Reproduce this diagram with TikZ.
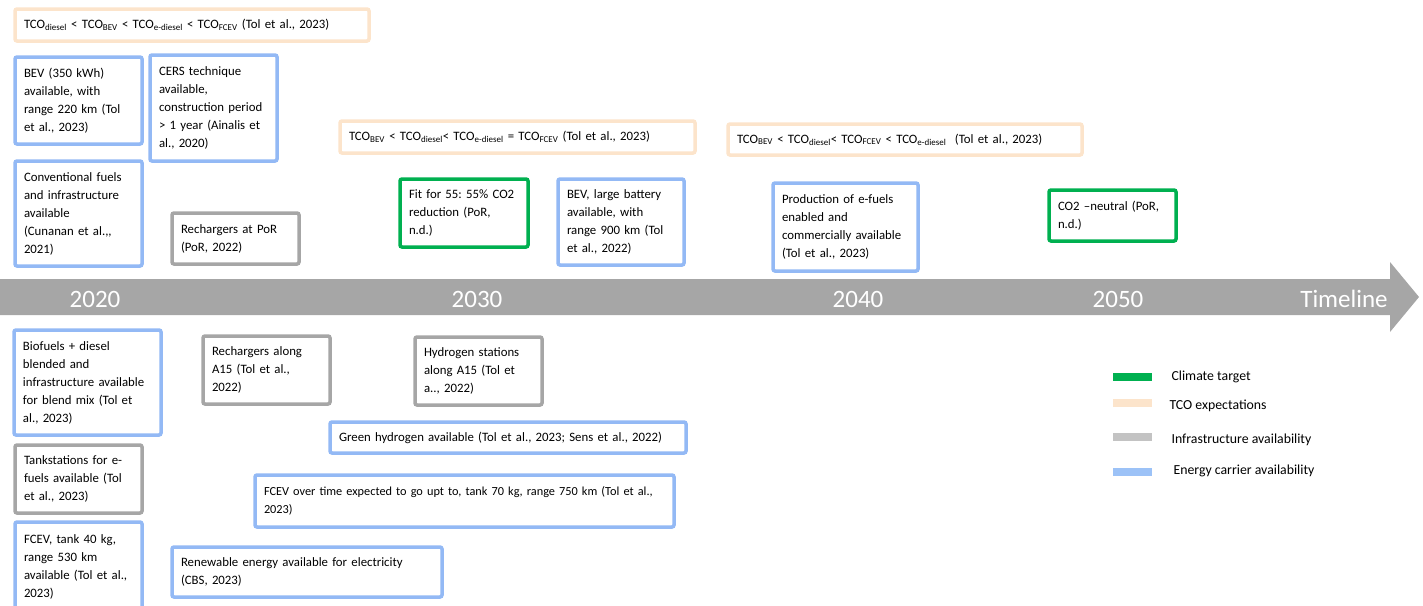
\documentclass[tikz,border=0pt]{standalone}
\usepackage{fontspec}
\setmainfont{Carlito}
\usepackage{tikz}

\definecolor{climgreen}{HTML}{00B050}
\definecolor{tcoorange}{HTML}{FCE4CB}
\definecolor{infragray}{HTML}{A6A6A6}
\definecolor{energyblue}{HTML}{93B9F5}
\definecolor{leggray}{HTML}{C3C3C3}
\definecolor{legblue}{HTML}{9CC2F7}

\begin{document}
\frenchspacing
\begin{tikzpicture}[x=1pt,y=-1pt]
\tikzset{
box/.style={rectangle,rounded corners=2pt,line width=3.5pt,fill=white,align=left,inner xsep=9pt,inner ysep=2pt,font=\fontsize{12.8}{18}\selectfont},
energy/.style={box,draw=energyblue},
infra/.style={box,draw=infragray},
climate/.style={box,draw=climgreen},
tco/.style={box,draw=tcoorange},
year/.style={text=white,font=\fontsize{25}{25}\selectfont},
legbar/.style={rectangle,minimum width=39pt,minimum height=8pt,inner sep=0pt},
legtext/.style={anchor=west,font=\fontsize{13.8}{16}\selectfont},
}
\useasboundingbox (0,0) rectangle (1423,605);
\clip (0,0) rectangle (1423,605);

% timeline arrow
\fill[infragray] (0,279) -- (1390,279) -- (1390,262) -- (1419,297) -- (1390,332) -- (1390,315) -- (0,315) -- cycle;
\node[year] (y2020) at (95,299) {2020};
\node[year] (y2030) at (477,299) {2030};
\node[year] (y2040) at (858,299) {2040};
\node[year] (y2050) at (1118,299) {2050};
\node[year] (tline) at (1344,299) {Timeline};

% TCO expectations
\node[tco, minimum width=354pt, minimum height=32pt, text width=336pt] (tco1) at (192,25) {TCO\textsubscript{diesel} < TCO\textsubscript{BEV} < TCO\textsubscript{e-diesel} < TCO\textsubscript{FCEV} (Tol et al., 2023)};
\node[tco, minimum width=355pt, minimum height=32pt, text width=337pt] (tco2) at (517.5,137) {TCO\textsubscript{BEV} < TCO\textsubscript{diesel}< TCO\textsubscript{e-diesel} = TCO\textsubscript{FCEV} (Tol et al., 2023)};
\node[tco, minimum width=354pt, minimum height=31pt, text width=336pt] (tco3) at (905,139.5) {TCO\textsubscript{BEV} < TCO\textsubscript{diesel}< TCO\textsubscript{FCEV} < TCO\textsubscript{e-diesel}\ \ (Tol et al., 2023)};

% above the timeline
\node[energy, minimum width=127pt, minimum height=87pt, text width=109pt] (bev350) at (78.5,100.5) {BEV (350 kWh)\\ available, with\\ range 220 km (Tol\\ et al., 2023)};
\node[energy, minimum width=127pt, minimum height=106pt, text width=109pt] (cers) at (213.5,108) {CERS technique\\ available,\\ construction period\\ > 1 year (Ainalis et\\ al., 2020)};
\node[energy, minimum width=127pt, minimum height=105pt, text width=109pt] (conv) at (78.5,213.5) {Conventional fuels\\ and infrastructure\\ available\\ (Cunanan et al.,{},\\ 2021)};
\node[infra, minimum width=127pt, minimum height=51pt, text width=109pt] (rechpor) at (235.5,238.5) {Rechargers at PoR\\ (PoR, 2022)};
\node[climate, minimum width=128pt, minimum height=68pt, text width=110pt] (fit55) at (464,213) {Fit for 55: 55\% CO2\\ reduction (PoR,\\ n.d.)};
\node[energy, minimum width=126pt, minimum height=86pt, text width=108pt] (bevlarge) at (621,222) {BEV, large battery\\ available, with\\ range 900 km (Tol\\ et al., 2022)};
\node[energy, minimum width=145pt, minimum height=88pt, text width=127pt] (efuels) at (845.5,227) {Production of e-fuels\\ enabled and\\ commercially available\\ (Tol et al., 2023)};
\node[climate, minimum width=127pt, minimum height=51pt, text width=109pt] (neutral) at (1112.5,215.5) {CO2 --neutral (PoR,\\ n.d.)};

% below the timeline
\node[energy, minimum width=147pt, minimum height=105pt, text width=129pt] (biofuels) at (87.5,382.5) {Biofuels + diesel\\ blended and\\ infrastructure available\\ for blend mix (Tol et\\ al., 2023)};
\node[infra, minimum width=127pt, minimum height=68pt, text width=109pt] (recha15) at (266.5,370) {Rechargers along\\ A15 (Tol et al.,\\ 2022)};
\node[infra, minimum width=127pt, minimum height=68pt, text width=109pt] (h2st) at (478.5,371) {Hydrogen stations\\ along A15 (Tol et\\ a.., 2022)};
\node[energy, minimum width=356pt, minimum height=31pt, text width=338pt] (greenh2) at (508,437.5) {Green hydrogen available (Tol et al., 2023; Sens et al., 2022)};
\node[infra, minimum width=127pt, minimum height=68pt, text width=109pt] (tank) at (78.5,479) {Tankstations for e-\\ fuels available (Tol\\ et al., 2023)};
\node[energy, minimum width=419pt, minimum height=52pt, text width=401pt, font=\fontsize{12.3}{18}\selectfont] (fcevover) at (464.5,501) {FCEV over time expected to go upt to, tank 70 kg, range 750 km (Tol et al.,\\ 2023)};
\node[energy, minimum width=127pt, minimum height=90pt, text width=109pt] (fcev40) at (78.5,567) {FCEV, tank 40 kg,\\ range 530 km\\ available (Tol et al.,\\ 2023)};
\node[energy, minimum width=270pt, minimum height=50pt, text width=252pt] (renew) at (307,572) {Renewable energy available for electricity\\ (CBS, 2023)};

% legend
\node[legbar, fill=climgreen] (lbgreen) at (1132.5,377) {};
\node[legbar, fill=tcoorange] (lborange) at (1132.5,403) {};
\node[legbar, fill=leggray] (lbgray) at (1132.5,436.5) {};
\node[legbar, fill=legblue] (lbblue) at (1132.5,471.5) {};
\node[legtext] (ltgreen) at (1168,377) {Climate target};
\node[legtext] (ltorange) at (1166,406) {TCO expectations};
\node[legtext] (ltgray) at (1168,440) {Infrastructure availability};
\node[legtext] (ltblue) at (1170,471) {Energy carrier availability};
\end{tikzpicture}
\end{document}
